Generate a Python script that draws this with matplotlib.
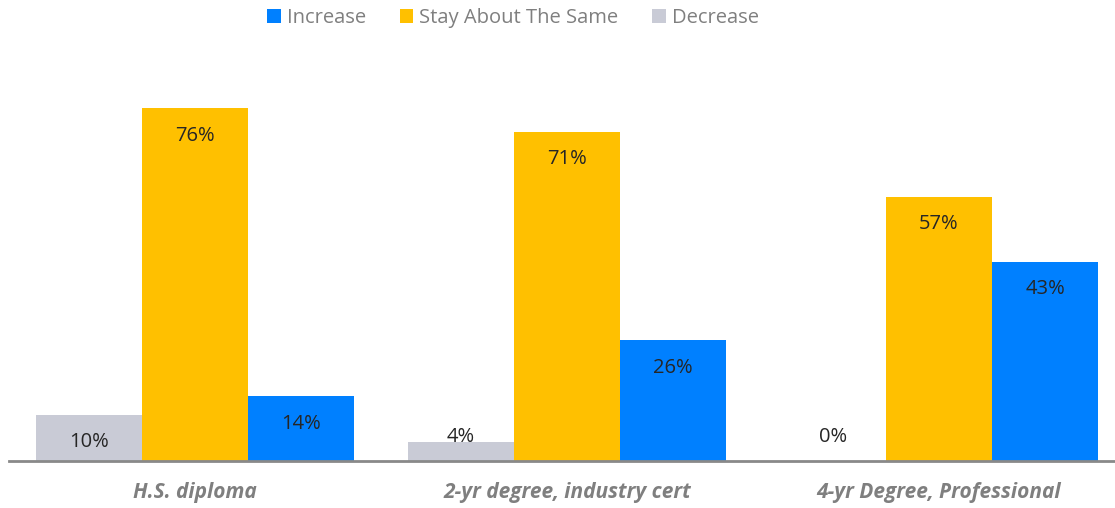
import matplotlib
matplotlib.use("Agg")
import matplotlib.pyplot as plt
import numpy as np

categories = ["H.S. diploma", "2-yr degree, industry cert", "4-yr Degree, Professional"]
series_names = ["Decrease", "Stay About The Same", "Increase"]
decrease = [10, 4, 0]
stay = [76, 71, 57]
increase = [14, 26, 43]
colors = {"Decrease": "#C9CBD6", "Stay About The Same": "#FFC000", "Increase": "#0080FF"}

plt.rcParams['font.family'] = ['Open Sans', 'DejaVu Sans']
W, H = 1115, 508
fig = plt.figure(figsize=(W / 100, H / 100), dpi=100)
ax = fig.add_axes([9 / W, 1 - 461 / H, 1 - 9 / W, (461 - 50) / H])

x = np.arange(len(categories))
bw = 0.285
data = {"Decrease": decrease, "Stay About The Same": stay, "Increase": increase}
handles = {}
for i, name in enumerate(series_names):
    vals = data[name]
    bars = ax.bar(x + (i - 1) * bw, vals, width=bw, color=colors[name], label=name)
    handles[name] = bars
    for b, v in zip(bars, vals):
        cx = b.get_x() + b.get_width() / 2
        if v >= 8:
            ax.annotate(f"{v}%", (cx, v), xytext=(0, -20), textcoords="offset points",
                        ha="center", va="center", fontsize=14.5, color="#262626")
        else:
            ax.annotate(f"{v}%", (cx, 0), xytext=(0, 17.5), textcoords="offset points",
                        ha="center", va="center", fontsize=14.5, color="#262626")

ax.set_xlim(-0.5, 2.473)
ax.set_ylim(0, 88.6)
for s in ["top", "right", "left"]:
    ax.spines[s].set_visible(False)
ax.spines["bottom"].set_color("#898989")
ax.spines["bottom"].set_linewidth(2)
ax.set_yticks([])
ax.set_xticks(x)
ax.set_xticklabels(categories, fontsize=15, fontweight="bold", fontstyle="italic", color="#7F7F7F")
ax.tick_params(axis="x", length=0, pad=15)

order = ["Increase", "Stay About The Same", "Decrease"]
leg = fig.legend([handles[n] for n in order], order, loc="center", bbox_to_anchor=(513 / W, 1 - 18 / H),
                 ncol=3, frameon=False, fontsize=14.5, handlelength=0.65, handleheight=0.65,
                 handletextpad=0.3, columnspacing=1.7, labelcolor="#7F7F7F")

fig.savefig("out.png", dpi=100)
